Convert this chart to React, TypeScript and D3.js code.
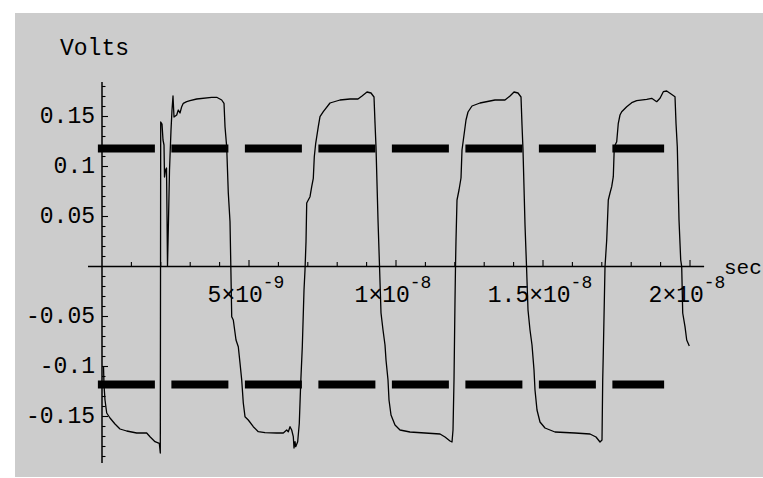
import React from "react";
import * as d3 from "d3";

// Time in nanoseconds, voltage in volts
const timeNs = [
  0.051, 0.068, 0.102, 0.16, 0.272, 0.442, 0.612, 0.84, 1.18, 1.52, 1.633, 1.803, 1.949, 1.983,
  1.997, 2.041, 2.075, 2.109, 2.126, 2.16, 2.194, 2.211, 2.228, 2.262, 2.296, 2.347, 2.381, 2.415,
  2.449, 2.541, 2.595, 2.653, 2.711, 2.765, 2.881, 2.993, 3.221, 3.731, 3.901, 4.071, 4.15, 4.184,
  4.241, 4.296, 4.354, 4.378, 4.412, 4.466, 4.558, 4.636, 4.694, 4.752, 4.806, 4.864, 4.976, 5.146,
  5.316, 5.544, 5.942, 6.167, 6.282, 6.337, 6.395, 6.452, 6.507, 6.531, 6.565, 6.588, 6.656, 6.711,
  6.759, 6.813, 6.871, 6.905, 6.939, 6.963, 7.075, 7.133, 7.187, 7.221, 7.269, 7.357, 7.415, 7.527,
  7.755, 8.095, 8.435, 8.707, 8.844, 9.014, 9.15, 9.252, 9.286, 9.32, 9.388, 9.439, 9.49, 9.558,
  9.626, 9.66, 9.728, 9.762, 9.83, 9.966, 10.136, 10.476, 10.986, 11.497, 11.667, 11.837, 11.905,
  11.939, 11.973, 12.007, 12.024, 12.041, 12.075, 12.143, 12.211, 12.245, 12.313, 12.381, 12.449,
  12.585, 12.857, 13.367, 13.707, 13.878, 14.014, 14.15, 14.252, 14.286, 14.32, 14.388, 14.439,
  14.49, 14.558, 14.626, 14.694, 14.728, 14.796, 14.898, 15.068, 15.408, 16.088, 16.599, 16.803,
  16.939, 17.007, 17.031, 17.051, 17.109, 17.167, 17.221, 17.279, 17.337, 17.391, 17.425, 17.507,
  17.561, 17.619, 17.677, 17.847, 18.017, 18.187, 18.527, 18.697, 18.867, 18.98, 19.092, 19.207,
  19.32, 19.49, 19.524, 19.568, 19.626, 19.684, 19.718, 19.752, 19.83, 19.888, 19.976,
];

const volts = [
  -0.0995, -0.1185, -0.1335, -0.1465, -0.1515, -0.1575, -0.1625, -0.1645, -0.1665, -0.1665, -0.1702,
  -0.1752, -0.1768, -0.1865,
  0.1445, 0.1425, 0.1265, 0.1215, 0.0895, 0.0965, 0.0985, 0.0515, 0.0005, 0.0465, 0.0965, 0.1365,
  0.1565, 0.1705, 0.1495, 0.1515, 0.1565, 0.1535, 0.1598, 0.1632, 0.1648, 0.1658, 0.1675, 0.1692,
  0.1692, 0.1665, 0.1632, 0.1398, 0.1198, 0.0735, 0.0448, 0.0065, -0.0502, -0.0535, -0.0735, -0.0802,
  -0.0965, -0.1135, -0.1365, -0.1502, -0.1535, -0.1602, -0.1652, -0.1662, -0.1665, -0.1665, -0.1635,
  -0.1652, -0.1602, -0.1635, -0.1702, -0.1815, -0.1752, -0.1802, -0.1752, -0.1568, -0.1165, -0.0802,
  -0.0235, -0.0035, 0.0248, 0.0635, 0.0698, 0.0798, 0.0882, 0.1098, 0.1232, 0.1398, 0.1498, 0.1548,
  0.1635, 0.1665, 0.1675, 0.1675, 0.1705, 0.1745, 0.1735, 0.1695, 0.1435, 0.1195, 0.0465, 0.0005,
  -0.0465, -0.0635, -0.0785, -0.0935, -0.1135, -0.1335, -0.1485, -0.1585, -0.1635, -0.1655, -0.1665,
  -0.1675, -0.1705, -0.1745, -0.1755, -0.1635, -0.1135, -0.0335, 0.0005, 0.0265, 0.0665, 0.0765,
  0.0885, 0.1165, 0.1315, 0.1465, 0.1545, 0.1605, 0.1635, 0.1665, 0.1665, 0.1705, 0.1745, 0.1735,
  0.1695, 0.1415, 0.1165, 0.0415, 0.0005, -0.0435, -0.0635, -0.0785, -0.1035, -0.1235, -0.1435,
  -0.1555, -0.1615, -0.1655, -0.1665, -0.1675, -0.1705, -0.1755, -0.1735, -0.1135, -0.0865, -0.0002,
  0.0265, 0.0665, 0.0735, 0.0798, 0.0898, 0.1198, 0.1248, 0.1432, 0.1515, 0.1548, 0.1598, 0.1638,
  0.1658, 0.1672, 0.1682, 0.1648, 0.1682, 0.1748, 0.1755, 0.1732, 0.1698, 0.1432, 0.1198, 0.0465,
  0.0065, -0.0002, -0.0465, -0.0602, -0.0735, -0.0795,
];

const thresholdLevels = [0.118, -0.118];
const thresholdSpanNs = [-0.14, 19.12];

const xLabelValues = [5e-9, 1e-8, 1.5e-8, 2e-8];
const xLabelMantissas = ["5", "1", "1.5", "2"];
const xLabelExponents = ["-9", "-8", "-8", "-8"];

const yLabelValues = [0.15, 0.1, 0.05, -0.05, -0.1, -0.15];
const yLabelTexts = ["0.15", "0.1", "0.05", "-0.05", "-0.1", "-0.15"];

const xAxisExtentNs = [-0.476, 20.48];
const yAxisExtent = [-0.1965, 0.1845];

const FONT = "'Liberation Mono', 'Courier New', monospace";

export default function App() {
  const W = 763;
  const H = 478;
  const x = d3.scaleLinear().domain([0, 20e-9]).range([102, 690]);
  const y = d3.scaleLinear().domain([0, 0.15]).range([266.5, 116.5]);

  const points: [number, number][] = timeNs.map((t, i) => [t * 1e-9, volts[i]]);
  const line = d3
    .line<[number, number]>()
    .x((d) => x(d[0]))
    .y((d) => y(d[1]));

  const x0 = x(0);
  const y0 = y(0);

  const xMinorTicks = d3.range(1, 21).map((i) => i * 1e-9);
  const yMinorTicks = d3.range(-19, 19).filter((i) => i !== 0);

  return (
    <svg
      width={W}
      height={H}
      style={{ position: "absolute", left: 0, top: 0, background: "#ffffff" }}
    >
      <rect x={15} y={13} width={W - 15} height={464} fill="#cccccc" />

      {/* threshold dashed lines */}
      {thresholdLevels.map((lv, i) => (
        <line
          key={"th" + i}
          x1={x(thresholdSpanNs[0] * 1e-9)}
          x2={x(thresholdSpanNs[1] * 1e-9)}
          y1={y(lv)}
          y2={y(lv)}
          stroke="#000"
          strokeWidth={8}
          strokeDasharray="57 16.5"
        />
      ))}

      {/* axes */}
      <line
        x1={x(xAxisExtentNs[0] * 1e-9)}
        x2={x(xAxisExtentNs[1] * 1e-9)}
        y1={y0}
        y2={y0}
        stroke="#000"
        strokeWidth={1.3}
      />
      <line
        x1={x0}
        x2={x0}
        y1={y(yAxisExtent[1])}
        y2={y(yAxisExtent[0])}
        stroke="#000"
        strokeWidth={1.5}
      />

      {xMinorTicks.map((t, i) => {
        const major = (i + 1) % 5 === 0;
        return (
          <line
            key={"xt" + i}
            x1={x(t)}
            x2={x(t)}
            y1={y0}
            y2={y0 - (major ? 6.5 : 4.5)}
            stroke="#000"
            strokeWidth={1.1}
          />
        );
      })}
      {yMinorTicks.map((k) => {
        const major = k % 5 === 0;
        return (
          <line
            key={"yt" + k}
            x1={x0}
            x2={x0 + (major ? 6 : 3.5)}
            y1={y(k / 100)}
            y2={y(k / 100)}
            stroke="#000"
            strokeWidth={1.1}
          />
        );
      })}

      {/* y tick labels */}
      {yLabelValues.map((v, i) => (
        <text
          key={"yl" + i}
          x={95}
          y={y(v) + 6}
          textAnchor="end"
          fontFamily={FONT}
          fontSize={23}
          fill="#000"
        >
          {yLabelTexts[i]}
        </text>
      ))}

      {/* x tick labels */}
      {xLabelValues.map((v, i) => (
        <text
          key={"xl" + i}
          x={x(v) - 3}
          y={y0 + 35}
          textAnchor="middle"
          fontFamily={FONT}
          fontSize={23}
          fill="#000"
        >
          {xLabelMantissas[i] + "×10"}
          <tspan fontSize={18} dy={-13.5}>
            {xLabelExponents[i]}
          </tspan>
        </text>
      ))}

      <text x={60} y={55} fontFamily={FONT} fontSize={23} fill="#000">
        Volts
      </text>
      <text x={724} y={y0 + 7} fontFamily={FONT} fontSize={21} fill="#000">
        sec
      </text>

      {/* signal trace */}
      <path d={line(points) || ""} fill="none" stroke="#000" strokeWidth={1.3} strokeLinejoin="round" />
    </svg>
  );
}
